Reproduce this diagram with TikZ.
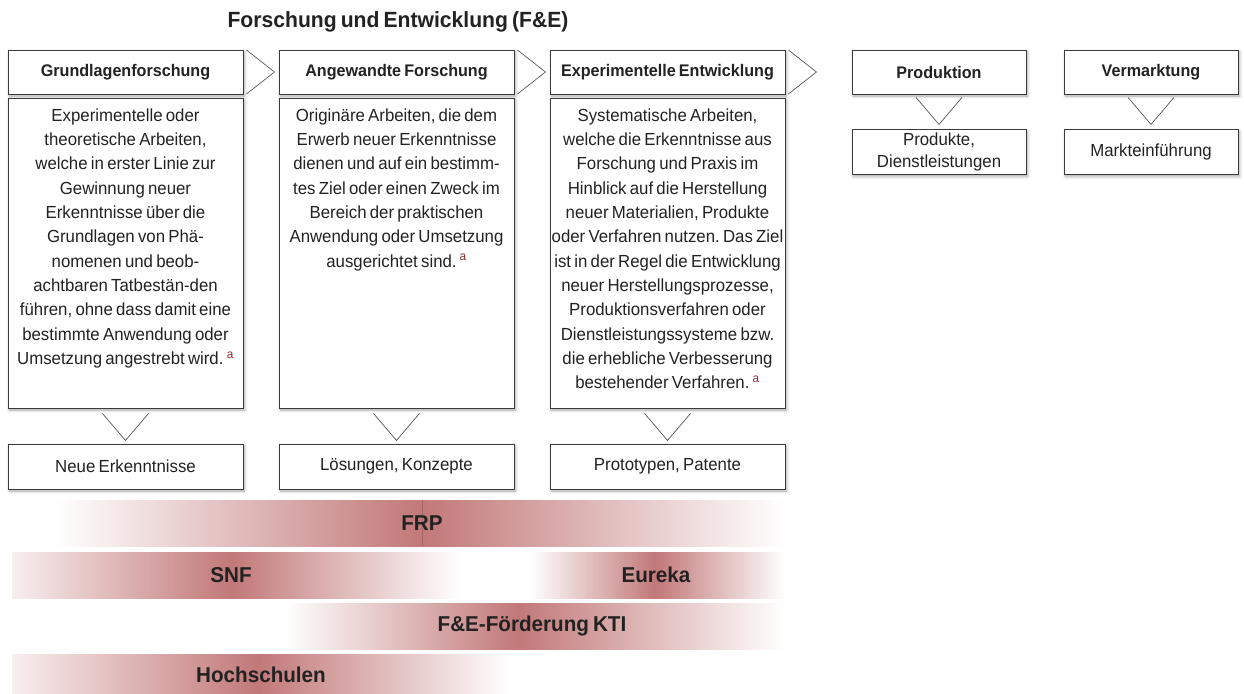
\documentclass[tikz,border=0pt]{standalone}
\usepackage{fontspec}
\setmainfont{Liberation Sans}[FakeStretch=0.96, WordSpace=0.7]
\frenchspacing
\usetikzlibrary{shadows.blur}
\definecolor{boxline}{HTML}{3A3A3A}
\definecolor{chevcol}{HTML}{555555}
\definecolor{txt}{HTML}{222222}
\definecolor{supred}{HTML}{8B2A2A}
\definecolor{peak}{RGB}{194,120,120}
\newcommand{\supa}{\textsuperscript{\color{supred}a}}
\tikzset{
  x=1pt, y=-1pt,
  every node/.style={text=txt},
  boxbase/.style={draw=boxline, line width=0.9pt, fill=white,
    blur shadow={shadow xshift=1.5pt, shadow yshift=-2pt, shadow blur radius=3pt, shadow opacity=35}},
  headbox/.style={boxbase, minimum height=44pt, inner sep=0pt,
    font=\fontsize{16.8}{20}\selectfont\bfseries},
  descbox/.style={boxbase, minimum height=310pt, inner sep=0pt},
  desctext/.style={anchor=north, inner sep=0pt, align=center,
    font=\fontsize{17.5}{24.3}\selectfont},
  outbox/.style={boxbase, minimum height=45pt, inner sep=0pt, align=center,
    font=\fontsize{17.5}{21.5}\selectfont},
  chev/.style={draw=chevcol, line width=0.7pt},
  barlabel/.style={inner sep=0pt, font=\fontsize{21.5}{24}\selectfont\bfseries},
  titletext/.style={inner sep=0pt, font=\fontsize{22}{24}\selectfont\bfseries},
}
\begin{document}
\begin{tikzpicture}
\useasboundingbox (0,0) rectangle (1244,693);

% title
\node[titletext] (title) at (398,22) {Forschung und Entwicklung (F\&E)};

% header boxes
\node[headbox, minimum width=235pt] (h1) at (125.5,72) {Grundlagenforschung};
\node[headbox, minimum width=235pt] (h2) at (396.5,72) {Angewandte Forschung};
\node[headbox, minimum width=235pt] (h3) at (667.5,72) {Experimentelle Entwicklung};
\node[headbox, minimum width=174pt] (h4) at (939,72) {Produktion};
\node[headbox, minimum width=174pt] (h5) at (1151,72) {Vermarktung};

% horizontal chevrons
\foreach \n in {h1,h2,h3}{
  \draw[chev] ([xshift=3pt,yshift=22pt]\n.east) -- ([xshift=31pt]\n.east) -- ([xshift=3pt,yshift=-22pt]\n.east);
}

% description boxes
\node[descbox, minimum width=235pt] (d1) at (125.5,253) {};
\node[descbox, minimum width=235pt] (d2) at (396.5,253) {};
\node[descbox, minimum width=235pt] (d3) at (667.5,253) {};

\node[desctext] (t1) at (125.5,108.5) {Experimentelle oder\\theoretische Arbeiten,\\welche in erster Linie zur\\Gewinnung neuer\\Erkenntnisse über die\\Grundlagen von Phä-\\nomenen und beob-\\achtbaren Tatbestän-den\\führen, ohne dass damit eine\\bestimmte Anwendung oder\\Umsetzung angestrebt wird. \supa};
\node[desctext] (t2) at (396.5,108.5) {Originäre Arbeiten, die dem\\Erwerb neuer Erkenntnisse\\dienen und auf ein bestimm-\\tes Ziel oder einen Zweck im\\Bereich der praktischen\\Anwendung oder Umsetzung\\ausgerichtet sind.\,\supa};
\node[desctext] (t3) at (667.5,108.5) {Systematische Arbeiten,\\welche die Erkenntnisse aus\\Forschung und Praxis im\\Hinblick auf die Herstellung\\neuer Materialien, Produkte\\oder Verfahren nutzen. Das Ziel\\ist in der Regel die Entwicklung\\neuer Herstellungsprozesse,\\Produktionsverfahren oder\\Dienstleistungssysteme bzw.\\die erhebliche Verbesserung\\bestehender Verfahren. \supa};

% down chevrons below description boxes
\foreach \n in {d1,d2,d3}{
  \draw[chev] ([xshift=-23pt,yshift=-5pt]\n.south) -- ([yshift=-32pt]\n.south) -- ([xshift=23pt,yshift=-5pt]\n.south);
}
\foreach \n in {h4,h5}{
  \draw[chev] ([xshift=-23pt,yshift=-3pt]\n.south) -- ([yshift=-30pt]\n.south) -- ([xshift=23pt,yshift=-3pt]\n.south);
}

% output boxes
\node[outbox, minimum width=235pt] (o1) at (125.5,466.5) {Neue Erkenntnisse};
\node[outbox, minimum width=235pt] (o2) at (396.5,466.5) {Lösungen, Konzepte};
\node[outbox, minimum width=235pt] (o3) at (667.5,466.5) {Prototypen, Patente};
\node[outbox, minimum width=174pt] (o4) at (939,152) {Produkte,\\Dienstleistungen};
\node[outbox, minimum width=174pt] (o5) at (1151,152) {Markteinführung};

% gradient bars
% FRP
\shade[left color=white, right color=peak] (55,500) rectangle (422,546);
\shade[left color=peak, right color=white] (422,500) rectangle (785,546);
\draw[peak!85!black, line width=0.5pt] (422,500) -- (422,546);
\node[barlabel] (frp) at (422,523) {FRP};
% SNF
\shade[left color=peak!12, right color=peak] (12,552) rectangle (231,598);
\shade[left color=peak, right color=white] (231,552) rectangle (460,598);
\node[barlabel] (snf) at (231,575) {SNF};
% Eureka
\shade[left color=white, right color=peak] (530,552) rectangle (655,598);
\shade[left color=peak, right color=white] (655,552) rectangle (785,598);
\node[barlabel] (eureka) at (656,575) {Eureka};
% KTI
\shade[left color=white, right color=peak] (285,603) rectangle (518,649);
\shade[left color=peak, right color=white] (518,603) rectangle (785,649);
\node[barlabel] (kti) at (532,626) {F\&E-Förderung KTI};
% Hochschulen
\shade[left color=peak!12, right color=peak] (12,654) rectangle (258,693);
\shade[left color=peak, right color=white] (258,654) rectangle (510,693);
\node[barlabel] (hs) at (261,675) {Hochschulen};
\end{tikzpicture}
\end{document}
